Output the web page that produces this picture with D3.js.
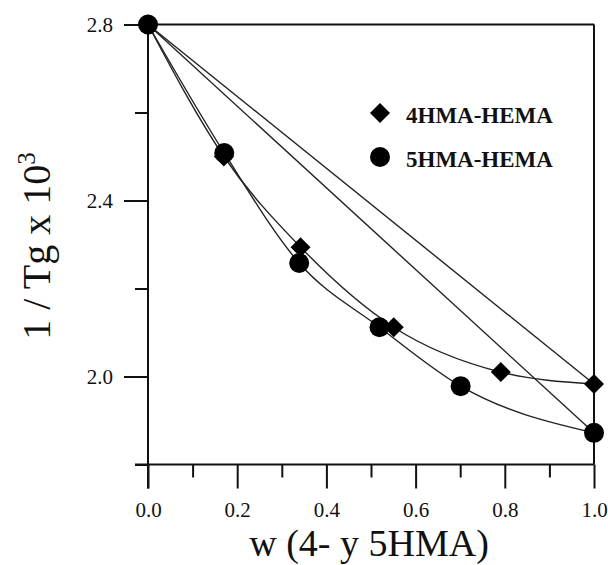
<!DOCTYPE html>
<html>
<head>
<meta charset="utf-8">
<script src="https://cdn.jsdelivr.net/npm/d3@7"></script>
<style>
  html, body { margin: 0; padding: 0; background: #fff; }
  svg { display: block; }
  text { font-family: "Liberation Serif", "Times New Roman", serif; fill: #111; }
</style>
</head>
<body>
<svg id="chart" width="608" height="565"></svg>
<script>
// Weight fraction of 4HMA or 5HMA in the copolymer, and 1/Tg x 10^3
const hma4X = [0, 0.17, 0.342, 0.551, 0.791, 1.0];
const hma4Y = [2.8, 2.50, 2.294, 2.112, 2.010, 1.983];
const hma5X = [0, 0.171, 0.339, 0.519, 0.701, 1.0];
const hma5Y = [2.8, 2.508, 2.258, 2.112, 1.978, 1.872];

const seriesNames = ["4HMA-HEMA", "5HMA-HEMA"];
const xTicks = [0, 0.1, 0.2, 0.3, 0.4, 0.5, 0.6, 0.7, 0.8, 0.9, 1.0];
const xTickLabels = ["0.0", "", "0.2", "", "0.4", "", "0.6", "", "0.8", "", "1.0"];
const yTicks = [1.8, 2.0, 2.2, 2.4, 2.6, 2.8];
const yTickLabels = ["", "2.0", "", "2.4", "", "2.8"];
const xTitle = "w (4- y 5HMA)";

const svg = d3.select("#chart");
const x = d3.scaleLinear().domain([0, 1]).range([148, 594]);
const y = d3.scaleLinear().domain([1.8, 2.8]).range([464.5, 24.5]);

const MAJOR = 24, MINOR = 13;
const ink = "#111";
const serif = '"Liberation Serif", "Times New Roman", serif';

// x axis
const xAxis = d3.axisBottom(x)
  .tickValues(xTicks)
  .tickSizeOuter(0)
  .tickSize(0)
  .tickFormat((d, i) => xTickLabels[i]);
const gx = svg.append("g").attr("transform", `translate(0,${y(1.8)})`).call(xAxis);
gx.select(".domain").remove();
gx.selectAll(".tick line")
  .attr("y2", (d, i) => xTickLabels[i] ? MAJOR : MINOR)
  .attr("stroke", ink).attr("stroke-width", 2);
gx.selectAll(".tick text")
  .attr("y", 52).attr("dy", 0);

// y axis
const yAxis = d3.axisLeft(y)
  .tickValues(yTicks)
  .tickSizeOuter(0)
  .tickSize(0)
  .tickFormat((d, i) => yTickLabels[i]);
const gy = svg.append("g").attr("transform", `translate(${x(0)},0)`).call(yAxis);
gy.select(".domain").remove();
gy.selectAll(".tick line")
  .attr("x2", (d, i) => yTickLabels[i] ? -MAJOR : -MINOR)
  .attr("stroke", ink).attr("stroke-width", 2);
gy.selectAll(".tick text")
  .attr("x", -35).attr("dy", "0.34em");
[gx, gy].forEach(g => g.attr("font-family", serif).attr("font-size", 21));
svg.selectAll(".tick text")
  .attr("fill", ink)
  .style("font-family", serif)
  .style("font-size", "21px");

// frame
const frame = svg.append("g").attr("stroke", ink).attr("stroke-width", 2).attr("fill", "none");
frame.append("line").attr("x1", x(0) - MINOR).attr("x2", x(1)).attr("y1", y(1.8)).attr("y2", y(1.8));
frame.append("line").attr("x1", x(0)).attr("x2", x(0)).attr("y1", y(2.8)).attr("y2", y(1.8) + MAJOR);
frame.append("line").attr("x1", x(0)).attr("x2", x(1)).attr("y1", y(2.8)).attr("y2", y(2.8));
frame.append("line").attr("x1", x(1)).attr("x2", x(1)).attr("y1", y(2.8)).attr("y2", y(1.8));

// additivity lines joining the homopolymer values
const plot = svg.append("g").attr("stroke", "#222").attr("stroke-width", 1.4).attr("fill", "none");
[[hma4X, hma4Y], [hma5X, hma5Y]].forEach(([xs, ys]) => {
  const n = xs.length - 1;
  plot.append("line")
    .attr("x1", x(xs[0])).attr("y1", y(ys[0]))
    .attr("x2", x(xs[n])).attr("y2", y(ys[n]));
});

// smooth curves through each series
const curve = d3.line().x(d => x(d[0])).y(d => y(d[1])).curve(d3.curveMonotoneX);
[[hma4X, hma4Y], [hma5X, hma5Y]].forEach(([xs, ys]) => {
  plot.append("path").attr("d", curve(xs.map((v, i) => [v, ys[i]])));
});

// markers
const diamond = d3.symbol().type(d3.symbolSquare).size(200);
svg.append("g").selectAll("path")
  .data(hma4X.map((v, i) => [v, hma4Y[i]]))
  .join("path")
  .attr("d", diamond)
  .attr("transform", d => `translate(${x(d[0])},${y(d[1])}) rotate(45)`)
  .attr("fill", "#000");
svg.append("g").selectAll("circle")
  .data(hma5X.map((v, i) => [v, hma5Y[i]]))
  .join("circle")
  .attr("cx", d => x(d[0])).attr("cy", d => y(d[1]))
  .attr("r", 10).attr("fill", "#000");

// legend
const legend = svg.append("g");
legend.append("path").attr("d", diamond).attr("transform", "translate(380,113) rotate(45)").attr("fill", "#000");
legend.append("circle").attr("cx", 380).attr("cy", 157).attr("r", 10).attr("fill", "#000");
legend.selectAll("text").data(seriesNames).join("text")
  .attr("x", 406).attr("y", (d, i) => i ? 167 : 123)
  .style("font-size", "23px").style("font-weight", "bold")
  .text(d => d);

// axis titles
svg.append("text")
  .attr("x", (x(0) + x(1)) / 2 - 2).attr("y", 556)
  .attr("text-anchor", "middle")
  .style("font-size", "38px")
  .text(xTitle);

const yt = svg.append("text")
  .attr("transform", "translate(50,246) rotate(-90)")
  .attr("text-anchor", "middle")
  .style("font-size", "40px");
yt.append("tspan").text("1 / Tg x 10");
yt.append("tspan").attr("dy", "-0.6em").style("font-size", "25px").text("3");
</script>
</body>
</html>
